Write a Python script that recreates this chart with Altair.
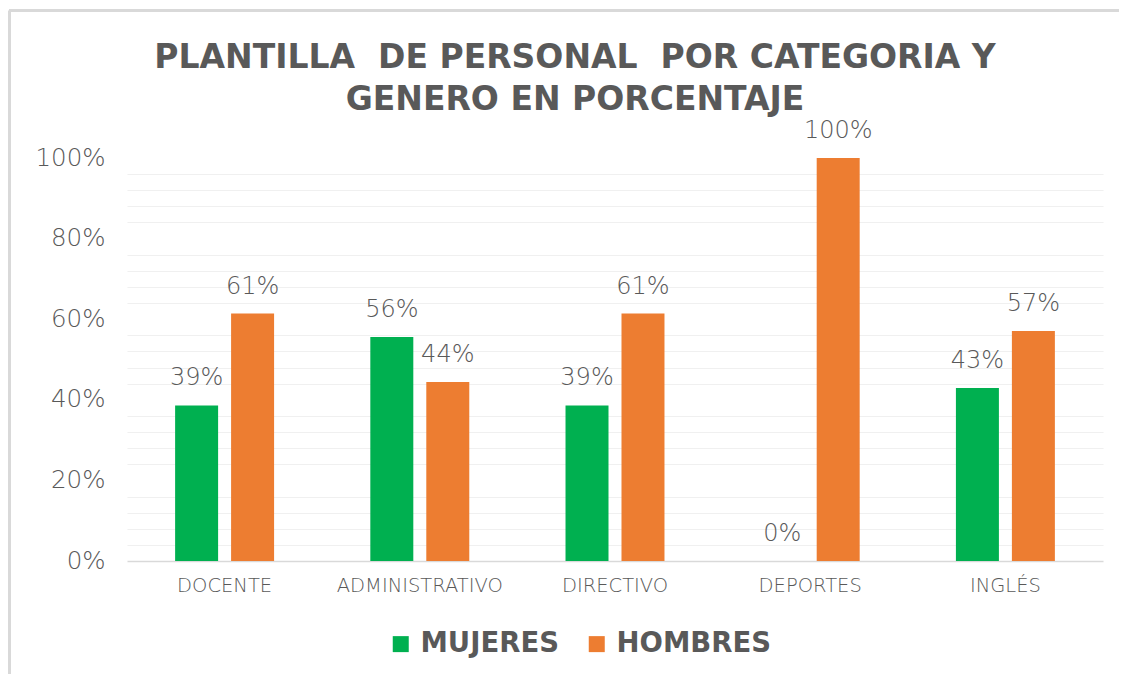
import altair as alt
import pandas as pd

categorias = ["DOCENTE", "ADMINISTRATIVO", "DIRECTIVO", "DEPORTES", "INGLÉS"]
mujeres = [0.386, 0.556, 0.386, 0.0, 0.429]
hombres = [0.614, 0.444, 0.614, 1.0, 0.571]
series = ["MUJERES", "HOMBRES"]
colores = ["#00B050", "#ED7D31"]
major_ticks = [0, 0.2, 0.4, 0.6, 0.8, 1.0]
minor_ticks = [0.04, 0.08, 0.12, 0.16, 0.24, 0.28, 0.32, 0.36, 0.44, 0.48, 0.52, 0.56,
               0.64, 0.68, 0.72, 0.76, 0.84, 0.88, 0.92, 0.96]
titulo = ["PLANTILLA\u00a0 DE PERSONAL\u00a0 POR CATEGORIA Y", "GENERO EN PORCENTAJE"]

rows = []
for c, m, h in zip(categorias, mujeres, hombres):
    rows.append({"categoria": c, "genero": "MUJERES", "valor": m})
    rows.append({"categoria": c, "genero": "HOMBRES", "valor": h})
df = pd.DataFrame(rows)

FONT = "DejaVu Sans"
TXT = "#595959"

yscale = alt.Scale(domain=[0, 1], nice=False)

x_enc = alt.X("categoria:N", sort=categorias,
              scale=alt.Scale(paddingInner=0.493, paddingOuter=0.2465),
              axis=alt.Axis(title=None, labelAngle=0, labelFontSize=19.5, labelColor=TXT,
                            labelFont=FONT, labelFontWeight=200, labelPadding=15, ticks=False,
                            domainColor="#D9D9D9", domainWidth=1.5, grid=False))
xoff = alt.XOffset("genero:N", sort=series,
                   scale=alt.Scale(paddingInner=0.232, paddingOuter=0))

bars = alt.Chart(df).mark_bar().encode(
    x=x_enc,
    xOffset=xoff,
    y=alt.Y("valor:Q", scale=yscale,
            axis=alt.Axis(orient="left", format="%", values=major_ticks, title=None,
                          labelFontSize=24.5, labelColor=TXT, labelFont=FONT, labelFontWeight=200,
                          labelPadding=22, domain=False, ticks=False,
                          gridColor="#D9D9D9", gridWidth=1.2)),
    color=alt.Color("genero:N", sort=series,
                    scale=alt.Scale(domain=series, range=colores),
                    legend=alt.Legend(title=None, orient="none", legendX=260, legendY=472,
                                      padding=0, direction="horizontal", symbolType="square",
                                      symbolSize=256, symbolStrokeWidth=0,
                                      labelFontSize=27.5, labelFont=FONT, labelFontWeight="bold",
                                      labelColor=TXT, columnPadding=24, labelOffset=6)),
)

labels = alt.Chart(df).mark_text(fontSize=24, font=FONT, fontWeight=200, color=TXT,
                                 baseline="alphabetic", dy=-20).encode(
    x=alt.X("categoria:N", sort=categorias),
    xOffset=xoff,
    y=alt.Y("valor:Q", scale=yscale, axis=None),
    text=alt.Text("valor:Q", format=".0%"),
)

minor = alt.Chart(pd.DataFrame({"v": minor_ticks})).mark_point(opacity=0).encode(
    y=alt.Y("v:Q", scale=yscale,
            axis=alt.Axis(orient="left", values=minor_ticks, labels=False, ticks=False,
                          domain=False, title=None, gridColor="#F0F0F0", gridWidth=1.2)),
)

frame_df = pd.DataFrame({"k": [0]})
frame_top = alt.Chart(frame_df).mark_rule(color="#D9D9D9", strokeWidth=3).encode(
    x=alt.value(-118), x2=alt.value(1000), y=alt.value(-147.5))
frame_left = alt.Chart(frame_df).mark_rule(color="#D9D9D9", strokeWidth=3).encode(
    x=alt.value(-117.5), y=alt.value(-147.5), y2=alt.value(530))

chart = alt.layer(minor, bars, labels, frame_top, frame_left).resolve_axis(
    y="independent"
).properties(
    width=976, height=403,
    title=alt.TitleParams(text=titulo, fontSize=33, font=FONT, fontWeight="bold",
                          color=TXT, anchor="middle", frame="group", dx=-40,
                          lineHeight=42, offset=0, dy=108),
    autosize=alt.AutoSizeParams(type="none"),
    padding={"left": 119, "top": 150, "right": 16, "bottom": 113},
).configure_view(stroke=None)

chart.save("out.html", embed_options={"renderer": "svg", "actions": False})
